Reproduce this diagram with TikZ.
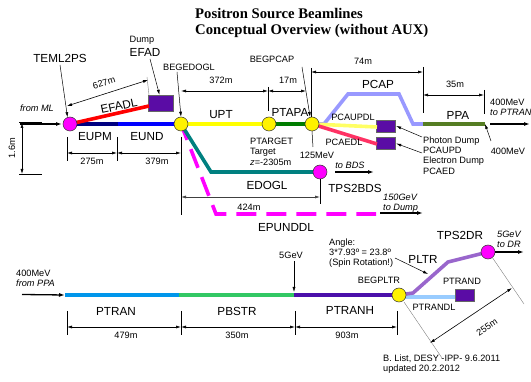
\documentclass[tikz,border=0pt]{standalone}
\usepackage{fontspec}
\setmainfont{Liberation Sans}
\newfontfamily\titlefont{Liberation Serif}
\usetikzlibrary{arrows.meta}
\definecolor{navyc}{RGB}{0,0,128}
\definecolor{bluec}{RGB}{0,0,255}
\definecolor{redc}{RGB}{255,0,0}
\definecolor{dumpc}{RGB}{90,12,165}
\definecolor{uptc}{RGB}{255,255,0}
\definecolor{ptapac}{RGB}{0,125,0}
\definecolor{pcapc}{RGB}{153,153,255}
\definecolor{ppac}{RGB}{85,125,35}
\definecolor{pcaupdlc}{RGB}{255,255,100}
\definecolor{pcaedlc}{RGB}{255,50,100}
\definecolor{edoglc}{RGB}{0,128,128}
\definecolor{magc}{RGB}{255,0,255}
\definecolor{ptranc}{RGB}{0,150,235}
\definecolor{pbstrc}{RGB}{50,200,100}
\definecolor{ptranhc}{RGB}{75,15,170}
\definecolor{pltrc}{RGB}{153,102,204}
\definecolor{ptrandlc}{RGB}{153,204,255}
\begin{document}
\begin{tikzpicture}[x=1pt,y=-1pt,
 beam/.style={line width=3.6pt},
 dimline/.style={{Latex[length=5pt,width=3pt]}-{Latex[length=5pt,width=3pt]},line width=0.6pt},
 tickline/.style={line width=0.7pt},
 ptr/.style={-{Latex[length=5pt,width=3pt]},line width=0.5pt},
 fatptr/.style={-{Latex[length=6pt,width=4pt]},line width=1.3pt},
 guide/.style={line width=0.4pt,draw=gray},
 ycirc/.style={circle,fill=yellow,draw=black!80,line width=0.5pt,minimum size=14pt,inner sep=0},
 mcirc/.style={circle,fill=magc,draw=black!80,line width=0.5pt,minimum size=14pt,inner sep=0},
 dumpbox/.style={rectangle,fill=dumpc,draw=black!60,line width=0.4pt,inner sep=0},
 big/.style={inner sep=0,font=\fontsize{11.7}{13}\selectfont},
 small/.style={inner sep=0,font=\fontsize{9.2}{10.5}\selectfont},
 ital/.style={inner sep=0,font=\fontsize{9.2}{10.5}\selectfont\itshape},
 ml/.style={inner sep=0,align=left,anchor=north west,font=\fontsize{9.2}{10.3}\selectfont},
]
\useasboundingbox (0,0) rectangle (531,382);

% ---------- title ----------
\node[anchor=west,inner sep=0,font=\titlefont\bfseries\fontsize{14.7}{16}\selectfont] (title1) at (195,13) {Positron Source Beamlines};
\node[anchor=west,inner sep=0,font=\titlefont\bfseries\fontsize{14.7}{16}\selectfont] (title2) at (195,31) {Conceptual Overview (without AUX)};

% ---------- coordinates upper line ----------
\coordinate (cTEML) at (70,124);
\coordinate (cEU) at (118,124);
\coordinate (cBEG) at (181,124);
\coordinate (cPTG) at (269,124);
\coordinate (cPTA) at (312,124);
\coordinate (cPC1) at (324,124);
\coordinate (cPC2) at (348,94);
\coordinate (cPC3) at (399,94);
\coordinate (cPC4) at (413,124);
\coordinate (cPPA0) at (423,124);
\coordinate (cPPA1) at (485,124);
\coordinate (cBDS) at (320,172);
\coordinate (cED) at (211,172);
\coordinate (cEP1) at (216,214);
\coordinate (cEP2) at (376,214);
\coordinate (cEFADin) at (149,106);
\coordinate (cUPDin) at (377,127);
\coordinate (cAEDin) at (377,144);

% dump boxes
\node[dumpbox,minimum width=25pt,minimum height=16pt] (efad) at (160.5,103) {};
\node[dumpbox,minimum width=19pt,minimum height=12pt] (pcaupd) at (385.5,126) {};
\node[dumpbox,minimum width=19pt,minimum height=12pt] (pcaed) at (385.5,143.5) {};

% beams upper
\draw[beam,navyc] (cTEML) -- (cEU);
\draw[beam,bluec] (cEU) -- (cBEG);
\draw[beam,redc] (cTEML) -- (cEFADin);
\draw[beam,uptc] (cBEG) -- (cPTG);
\draw[beam,ptapac] (cPTG) -- (cPTA);
\draw[beam,pcapc] (cPTA) -- (cPC1) -- (cPC2) -- (cPC3) -- (cPC4) -- (cPPA0);
\draw[beam,ppac] (cPPA0) -- (cPPA1);
\draw[beam,pcaupdlc] (cPTA) -- (cUPDin);
\draw[beam,pcaedlc] (cPTA) -- (cAEDin);
\draw[beam,magc,dash pattern=on 20pt off 10pt,dash phase=3pt] (cBEG) -- (cEP1) -- (cEP2);
\draw[beam,edoglc] (cBEG) -- (cED) -- (cBDS);

% circles upper
\node[mcirc] (teml) at (cTEML) {};
\node[ycirc] (begedogl) at (cBEG) {};
\node[ycirc] (ptarget) at (cPTG) {};
\node[ycirc] (ptapa) at (cPTA) {};
\node[mcirc] (tps2bds) at (cBDS) {};

% thick arrows upper
\coordinate (aML0) at (20,124); \coordinate (aML1) at (62,124);
\draw[fatptr] (aML0) -- (aML1);
\node[ital] (tML) at (37,108) {from ML};
\coordinate (aTP0) at (490,124); \coordinate (aTP1) at (530,124);
\draw[fatptr] (aTP0) -- (aTP1);
\coordinate (aBD1) at (374,172);
\draw[fatptr] ([xshift=8pt]tps2bds.east) -- (aBD1);
\coordinate (aDu0) at (380,213); \coordinate (aDu1) at (423,213);
\draw[fatptr] (aDu0) -- (aDu1);

% 1.6m dimension
\coordinate (d16a) at (19,122); \coordinate (d16b) at (42,122);
\draw[tickline] (d16a) -- (d16b);
\coordinate (d16c) at (19,174); \coordinate (d16d) at (42,174);
\draw[tickline] (d16c) -- (d16d);
\coordinate (d16t) at (22,123); \coordinate (d16u) at (22,174);
\draw[dimline] (d16t) -- (d16u);
\node[small,rotate=90] (t16) at (12,148) {1.6m};

% EUPM / EUND dims
\coordinate (k1a) at (67,137); \coordinate (k1b) at (67,161);
\coordinate (k2a) at (117,137); \coordinate (k2b) at (117,161);
\coordinate (k3a) at (181,137); \coordinate (k3b) at (181,215);
\draw[tickline] (k1a) -- (k1b) (k2a) -- (k2b) (k3a) -- (k3b);
\coordinate (m1) at (67,153); \coordinate (m2) at (117,153); \coordinate (m3) at (181,153);
\draw[dimline] (m1) -- (m2);
\draw[dimline] (m2) -- (m3);
\node[big] (tEUPM) at (95,137) {EUPM};
\node[big] (tEUND) at (147,137) {EUND};
\node[small] (t275) at (92,161) {275m};
\node[small] (t379) at (157,161) {379m};

% TEML2PS, EFAD
\node[big] (tTEML) at (60,58) {TEML2PS};
\coordinate (aTE0) at (60,65);
\draw[ptr] (aTE0) -- (teml.110);
\node[small] (tDump) at (142,40) {Dump};
\node[big] (tEFAD) at (145,52) {EFAD};
\coordinate (aEF0) at (150,59);
\draw[ptr] (aEF0) -- ([xshift=-1pt]efad.north);
\coordinate (d627a) at (67,106); \coordinate (d627b) at (148,80);
\draw[dimline] (d627a) -- (d627b);
\coordinate (g627a) at (147,77); \coordinate (g627b) at (149,95);
\draw[guide] (g627a) -- (g627b);
\node[small,rotate=17] (t627) at (104,83) {627m};
\node[big,rotate=12] (tEFADL) at (119,106) {EFADL};

% BEGEDOGL etc.
\node[small] (tBEG) at (189,67) {BEGEDOGL};
\coordinate (aBG0) at (177,72);
\draw[ptr] (aBG0) -- (begedogl.north);
\coordinate (k4a) at (268,87); \coordinate (k4b) at (268,111);
\draw[tickline] (k4a) -- (k4b);
\coordinate (m4) at (181,91); \coordinate (m5) at (268,91); \coordinate (m6) at (306,91);
\draw[dimline] (m4) -- (m5);
\draw[dimline] (m5) -- (m6);
\node[small] (t372) at (221,80) {372m};
\node[small] (t17) at (288,80) {17m};
\node[small] (tBEGPCAP) at (272,59) {BEGPCAP};
\coordinate (aBP0) at (302,67);
\draw[ptr] (aBP0) -- (ptapa.105);
\coordinate (k5a) at (311,68); \coordinate (k5b) at (311,117);
\coordinate (k6a) at (423,67); \coordinate (k6b) at (423,113);
\coordinate (k7a) at (484,90); \coordinate (k7b) at (484,114);
\draw[tickline] (k5a) -- (k5b) (k6a) -- (k6b) (k7a) -- (k7b);
\coordinate (m7) at (311,72); \coordinate (m8) at (423,72);
\draw[dimline] (m7) -- (m8);
\coordinate (m9) at (423,95); \coordinate (m10) at (484,95);
\draw[dimline] (m9) -- (m10);
\node[small] (t74) at (363,61) {74m};
\node[small] (t35) at (455,84) {35m};
\node[big] (tUPT) at (221,115) {UPT};
\node[big] (tPTAPA) at (290,112) {PTAPA};
\node[big] (tPCAP) at (378,84) {PCAP};
\node[big] (tPPA) at (458,115) {PPA};
\node[ml] (t400a) at (490,99) {400MeV\\\itshape to PTRAN};
\node[small] (t400b) at (508,151) {400MeV};
\coordinate (a4b0) at (491,141);
\draw[ptr] (a4b0) -- (cPPA1);

% PCAP dumps
\node[small] (tPCAUPDL) at (353,117) {PCAUPDL};
\node[small] (tPCAEDL) at (344,142) {PCAEDL};
\node[ml] (tPhot) at (423,136.5) {Photon Dump\\PCAUPD\\Electron Dump\\PCAED};
\coordinate (aPh0) at (422,137); \coordinate (aEl0) at (422,153);
\draw[ptr] (aPh0) -- ([xshift=1pt]pcaupd.east);
\draw[ptr] (aEl0) -- ([xshift=1pt]pcaed.east);

% PTARGET
\node[ml,font=\fontsize{9.2}{10.6}\selectfont] (tPTARGET) at (250,137.5) {PTARGET\\Target\\\textit{z}=-2305m};
\node[small] (t125) at (317,155) {125MeV};
\coordinate (l125) at (313,147);
\draw[line width=0.5pt] (ptapa.south) -- (l125);

% EDOGL / BDS / EPUNDDL
\node[ital] (tBDS) at (350,165) {to BDS};
\node[big] (tTPS2BDS) at (355,188) {TPS2BDS};
\node[big] (tEDOGL) at (267,185) {EDOGL};
\coordinate (m11) at (181,197); \coordinate (m12) at (320,197);
\draw[dimline,draw=black!75] (m11) -- (m12);
\coordinate (k8b) at (320,204);
\draw[tickline] (tps2bds.south) -- (k8b);
\node[small] (t424) at (249,207) {424m};
\node[big] (tEPUNDDL) at (286,228) {EPUNDDL};
\node[ml,font=\fontsize{9.2}{10.3}\selectfont\itshape] (tDump2) at (383,193.5) {150GeV\\to Dump};

% ---------- lower line ----------
\coordinate (cL1) at (65,295);
\coordinate (cL2) at (179,295);
\coordinate (cL3) at (294,295);
\coordinate (cBP) at (399,295);
\coordinate (cPL1) at (413,293);
\coordinate (cPL2) at (448,262);
\coordinate (cDR) at (488,252);
\coordinate (cTD0) at (404,297);
\coordinate (cTDin) at (455,297);
\node[dumpbox,minimum width=19pt,minimum height=12pt] (ptrand) at (464.5,295) {};

\draw[beam,ptranc] (cL1) -- (cL2);
\draw[beam,pbstrc] (cL2) -- (cL3);
\draw[beam,ptranhc] (cL3) -- (cBP);
\draw[beam,ptrandlc] (cTD0) -- (cTDin);
\draw[beam,pltrc] (cBP) -- (cPL1) -- (cPL2) -- (cDR);
\node[ycirc] (begpltr) at (cBP) {};
\node[mcirc] (tps2dr) at (cDR) {};

\coordinate (aPP0) at (22,294.5);
\draw[fatptr] (aPP0) -- (cL1);
\node[ml] (tPPA2) at (16,269.5) {400MeV\\\itshape from PPA};
\coordinate (aDR1) at (524,252);
\draw[fatptr] (tps2dr.east) -- (aDR1);
\node[ml,font=\fontsize{9.2}{10.3}\selectfont\itshape] (tDR) at (497,230.5) {5GeV\\to DR};

% lower dims
\foreach \xx/\nm in {67/q1,181/q2,295/q3,397/q4}{
  \coordinate (\nm a) at (\xx,311); \coordinate (\nm b) at (\xx,335);
  \draw[tickline] (\nm a) -- (\nm b);
  \coordinate (\nm m) at (\xx,327);
}
\draw[dimline] (q1m) -- (q2m);
\draw[dimline] (q2m) -- (q3m);
\draw[dimline] (q3m) -- (q4m);
\node[big] (tPTRAN) at (116,311) {PTRAN};
\node[big] (tPBSTR) at (237,311) {PBSTR};
\node[big] (tPTRANH) at (350,310) {PTRANH};
\node[small] (t479) at (126,335) {479m};
\node[small] (t350) at (237,335) {350m};
\node[small] (t903) at (347,335) {903m};

\node[small] (t5GeV) at (291,255) {5GeV};
\coordinate (a5a) at (294,261); \coordinate (a5b) at (294,292);
\draw[ptr] (a5a) -- (a5b);
\node[small] (tBEGPLTR) at (379,280) {BEGPLTR};
\node[ml] (tAngle) at (329,238.5) {Angle:\\3*7.93º = 23.8º\\(Spin Rotation!)};
\coordinate (aAn0) at (395,258); \coordinate (aAn1) at (428,274);
\draw[ptr] (aAn0) -- (aAn1);
\node[big] (tPLTR) at (423,259) {PLTR};
\node[big] (tTPS2DR) at (460,235) {TPS2DR};
\node[small] (tPTRAND) at (462,281) {PTRAND};
\node[small] (tPTRANDL) at (434,307) {PTRANDL};

% 255m
\coordinate (g1a) at (404,302); \coordinate (g1b) at (442,358);
\coordinate (g2a) at (492,257); \coordinate (g2b) at (524,304);
\draw[guide] (g1a) -- (g1b);
\draw[guide] (g2a) -- (g2b);
\coordinate (d255a) at (430,343); \coordinate (d255b) at (512,288);
\draw[dimline] (d255a) -- (d255b);
\node[small,rotate=34] (t255) at (487,327) {255m};

\node[ml] (tCredit) at (383,354.5) {B. List, DESY -IPP- 9.6.2011\\updated 20.2.2012};
\end{tikzpicture}
\end{document}
